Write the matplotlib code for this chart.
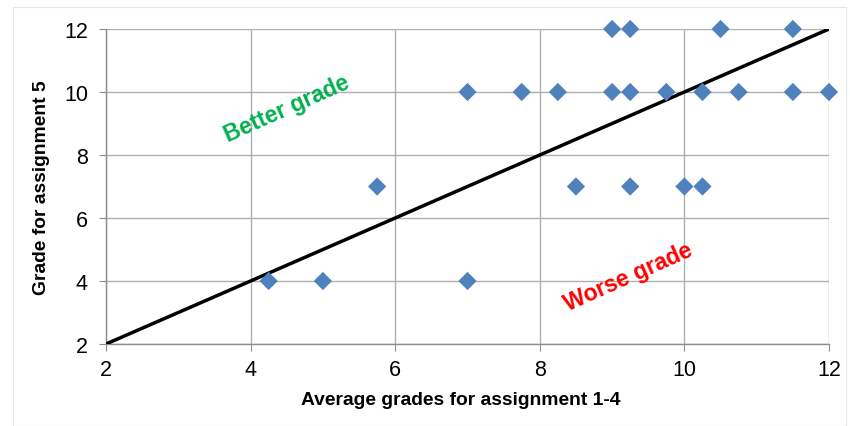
import matplotlib
matplotlib.use("Agg")
import matplotlib.pyplot as plt
from matplotlib.patches import Rectangle

avg_grades = [4.25, 5, 5.75, 7, 7, 7.75, 8.25, 8.5, 9, 9, 9.25, 9.25, 9.25,
              9.75, 10, 10.25, 10.25, 10.5, 10.75, 11.5, 11.5, 12]
grade5 = [4, 4, 7, 10, 4, 10, 10, 7, 12, 10, 12, 10, 7,
          10, 7, 10, 7, 12, 10, 12, 10, 10]
line_x = [2, 12]
line_y = [2, 12]
ticks = [2, 4, 6, 8, 10, 12]

plt.rcParams['font.family'] = ['Liberation Sans', 'DejaVu Sans']

fig = plt.figure(figsize=(8.5, 4.27), dpi=100)
fig.patches.append(Rectangle((13/850, 0.0), (846-13)/850, (427-8)/427 - 0.0,
                             transform=fig.transFigure, fill=False,
                             edgecolor='#e6e6e6', linewidth=0.8))
ax = fig.add_axes([106/850, (427-345)/427, (829-106)/850, (345-30)/427])

ax.plot(line_x, line_y, color='black', linewidth=2.5, zorder=3, solid_capstyle='butt')
ax.scatter(avg_grades, grade5, marker='D', s=9.3**2, color='#4F81BD',
           edgecolors='none', zorder=4, clip_on=False)

ax.set_xlim(2, 12)
ax.set_ylim(2, 12)
ax.set_xticks(ticks)
ax.set_yticks(ticks)
ax.grid(True, color='#b0b0b0', linewidth=1.0)
ax.set_axisbelow(True)
for s in ['top', 'right']:
    ax.spines[s].set_visible(False)
for s in ['left', 'bottom']:
    ax.spines[s].set_color('#8c8c8c')
    ax.spines[s].set_linewidth(1.0)
ax.tick_params(axis='both', direction='out', length=5, color='#8c8c8c',
               labelsize=15.5, pad=6, labelcolor='black')
ax.tick_params(axis='y', pad=8)

ax.set_xlabel('Average grades for assignment 1-4', fontsize=13.9,
              fontweight='bold', labelpad=7)
ax.xaxis.set_label_coords(0.491, -0.15)
ax.set_ylabel('Grade for assignment 5', fontsize=13.9, fontweight='bold',
              labelpad=10)

ax.text(4.5, 9.5, 'Better grade', color='#00B050', fontsize=16.5,
        fontweight='bold', rotation=24, ha='center', va='center')
ax.text(9.22, 4.16, 'Worse grade', color='#FF0000', fontsize=16.5,
        fontweight='bold', rotation=24, ha='center', va='center')

fig.savefig('out.png', dpi=100)
